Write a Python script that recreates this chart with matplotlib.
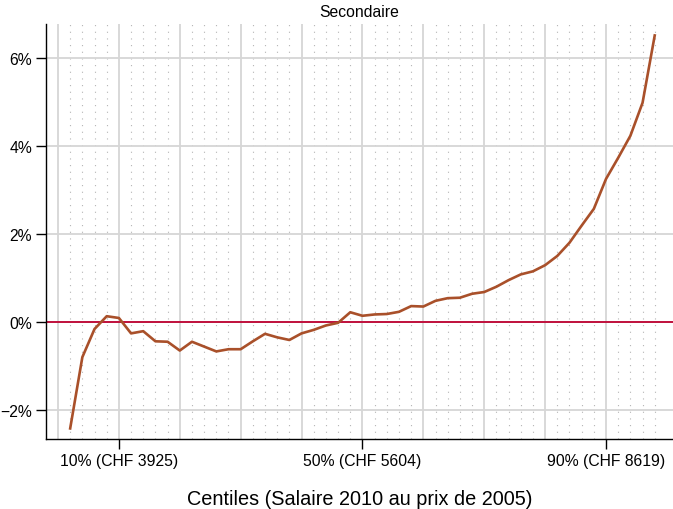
import numpy as np
import matplotlib.pyplot as plt
from matplotlib.ticker import FixedLocator

# centiles (every 2nd) and change in wage, in percent
centiles = np.arange(2, 100, 2)
change = [-2.42, -0.80, -0.16, 0.13, 0.09, -0.26, -0.21, -0.44, -0.45, -0.65,
          -0.45, -0.56, -0.67, -0.62, -0.62, -0.44, -0.27, -0.35, -0.41, -0.26,
          -0.18, -0.08, -0.02, 0.22, 0.14, 0.17, 0.18, 0.23, 0.36, 0.35,
          0.48, 0.54, 0.55, 0.64, 0.68, 0.80, 0.95, 1.08, 1.15, 1.29,
          1.50, 1.80, 2.19, 2.57, 3.25, 3.73, 4.23, 4.98, 6.51]

xticks = [10, 50, 90]
xtick_labels = ["10% (CHF 3925)", "50% (CHF 5604)", "90% (CHF 8619)"]
yticks = [-2, 0, 2, 4, 6]
ytick_labels = ["\u22122%", "0%", "2%", "4%", "6%"]

plt.rcParams['font.family'] = ['Liberation Sans', 'DejaVu Sans']

fig = plt.figure(figsize=(6.73, 5.1), dpi=100)
ax = fig.add_axes([46 / 673, 70 / 510, 627 / 673, 415 / 510])

# grid: major every 10 centiles, dotted minor every 2
for c in range(0, 100, 2):
    if c % 10 == 0:
        ax.axvline(c, color='#d6d6d6', lw=1.3, zorder=1)
    else:
        ax.axvline(c, color='#b4b4b4', lw=0.8, ls=(0, (1, 5)), zorder=1)
for y in yticks:
    ax.axhline(y, color='#d6d6d6', lw=1.3, zorder=1)

ax.axhline(0, color='#c0103c', lw=1.4, zorder=2)
ax.plot(centiles, change, color='#a9502a', lw=1.9, zorder=3)

ax.set_xlim(-1.97, 101)
ax.set_ylim(-2.66, 6.77)

ax.xaxis.set_major_locator(FixedLocator(xticks))
ax.set_xticklabels(xtick_labels, fontsize=11.3)
ax.yaxis.set_major_locator(FixedLocator(yticks))
ax.set_yticklabels(ytick_labels, fontsize=11.3)
ax.tick_params(length=7, width=1, pad=3, color='black')

for s in ['top', 'right']:
    ax.spines[s].set_visible(False)
for s in ['left', 'bottom']:
    ax.spines[s].set_linewidth(1)

ax.set_title("Secondaire", fontsize=11.3, pad=6)
ax.set_xlabel("Centiles (Salaire 2010 au prix de 2005)", fontsize=14.3, labelpad=15)

plt.savefig("out.png", dpi=100)
